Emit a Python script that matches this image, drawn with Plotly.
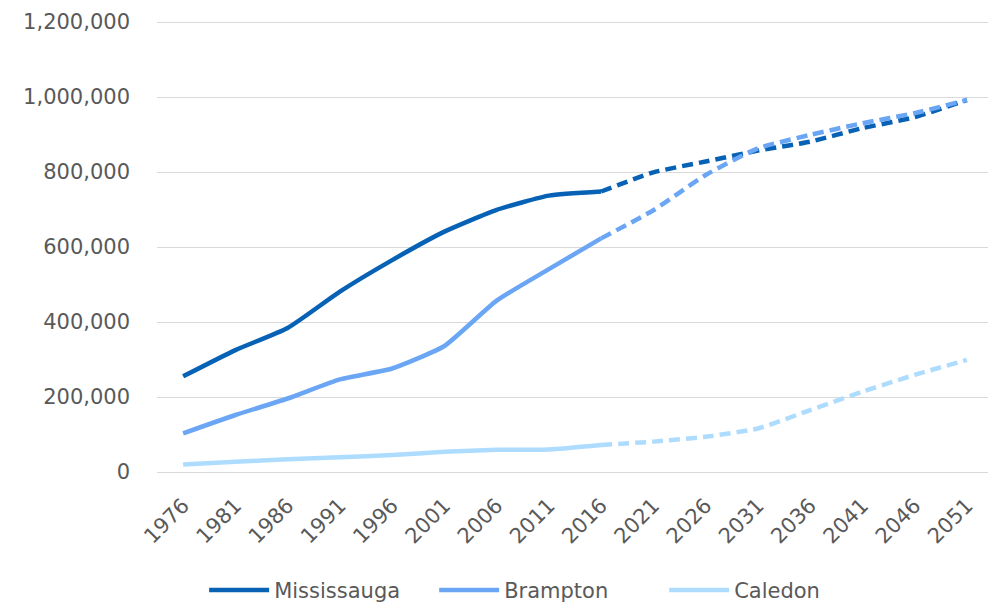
import plotly.graph_objects as go

years = ["1976", "1981", "1986", "1991", "1996", "2001", "2006", "2011", "2016",
         "2021", "2026", "2031", "2036", "2041", "2046", "2051"]
hist_n = 9  # 1976..2016 actual; 2016..2051 projected

mississauga = [255000, 325000, 384000, 481000, 565000, 641000, 699000, 737000, 748000,
               799000, 828000, 857000, 881000, 917000, 946000, 992000]
brampton = [103000, 152000, 196000, 247000, 276000, 336000, 457000, 541000, 623000,
            698000, 792000, 863000, 899000, 930000, 957000, 992000]
caledon = [20000, 27000, 34000, 39000, 45000, 54000, 59000, 60000, 72000,
           81000, 94000, 116000, 165000, 214000, 259000, 299000]

y_ticks = [0, 200000, 400000, 600000, 800000, 1000000, 1200000]

series = [("Mississauga", mississauga, "#0762B5"),
          ("Brampton", brampton, "#6BA6F4"),
          ("Caledon", caledon, "#AEDCFF")]

FONT = "'DejaVu Sans', sans-serif"
fig = go.Figure()
for name, vals, col in series:
    fig.add_trace(go.Scatter(x=years[:hist_n], y=vals[:hist_n], mode="lines", name=name,
                             line=dict(color=col, width=4.5, shape="spline", smoothing=0.5),
                             legendgroup=name))
for name, vals, col in series:
    fig.add_trace(go.Scatter(x=years[hist_n - 1:], y=vals[hist_n - 1:], mode="lines", name=name,
                             showlegend=False, legendgroup=name,
                             line=dict(color=col, width=4.5, dash="11px,6px", shape="spline", smoothing=0.5)))

fig.update_layout(
    width=996, height=607,
    margin=dict(l=149, r=11, t=12, b=143, autoexpand=False),
    plot_bgcolor="white", paper_bgcolor="white",
    font=dict(family=FONT, size=21, color="#595959"),
    xaxis=dict(type="category", categoryorder="array", categoryarray=years,
               range=[-0.5, len(years) - 0.5], tickangle=-45, showgrid=False,
               showline=False, ticks="", automargin=False, ticklabelstandoff=16,
               tickfont=dict(size=21, color="#595959")),
    yaxis=dict(range=[0, 1205333], tickvals=y_ticks,
               tickformat=",d", showgrid=True, gridcolor="#D9D9D9", gridwidth=1,
               zeroline=True, zerolinecolor="#D9D9D9", zerolinewidth=1, automargin=False,
               ticks="", ticklabelstandoff=26, tickfont=dict(size=21, color="#595959")),
    legend=dict(orientation="h", x=0.0564, xanchor="left", y=-0.262, yanchor="middle",
                font=dict(size=21, color="#595959"), itemwidth=60, entrywidth=155,
                bgcolor="rgba(0,0,0,0)"),
    showlegend=True,
)

fig.write_html("out.html")
